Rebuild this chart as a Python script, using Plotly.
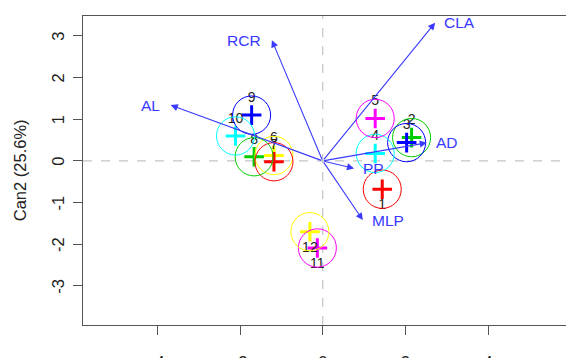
import plotly.graph_objects as go

# ---- data ----
groups = ["1", "2", "3", "4", "5", "6", "7", "8", "9", "10", "11", "12"]
can1 = [1.44, 2.15, 2.03, 1.27, 1.27, -1.18, -1.18, -1.66, -1.72, -2.11, -0.13, -0.31]
can2 = [-0.68, 0.56, 0.44, 0.18, 1.02, 0.13, -0.02, 0.10, 1.10, 0.60, -2.09, -1.70]
label_pos = ["bottom center", "top center", "top center", "top center", "top center",
             "top center", "top center", "top center", "top center", "top center",
             "bottom center", "bottom center"]
group_colors = ["#FF0000", "#00CD00", "#0000FF", "#00FFFF", "#FF00FF", "#FFFF00",
                "#FF0000", "#00CD00", "#0000FF", "#00FFFF", "#FF00FF", "#FFFF00"]
circle_radius = 0.46

variables = ["CLA", "RCR", "AL", "AD", "PP", "MLP"]
arrow_x = [2.72, -1.23, -3.68, 2.52, 0.76, 0.97]
arrow_y = [3.32, 2.90, 1.34, 0.435, -0.18, -1.42]
arrow_label_side = ["right", "left", "left", "right", "right", "right"]

x_ticks = [-4, -2, 0, 2, 4]
y_ticks = [-3, -2, -1, 0, 1, 2, 3]
y_title = "Can2 (25.6%)"

FONT = "Liberation Sans, Arial, sans-serif"
ARROW_COL = "#3a3aff"
LABEL_COL = "#3838ff"

fig = go.Figure()

shapes = []
# dashed reference lines
shapes.append(dict(type="line", xref="x", yref="paper", x0=0, x1=0, y0=0, y1=1,
                   line=dict(color="#c4c4c4", width=1.2, dash="dash"), layer="below"))
shapes.append(dict(type="line", xref="paper", yref="y", x0=0, x1=1, y0=0, y1=0,
                   line=dict(color="#c4c4c4", width=1.2, dash="dash"), layer="below"))
# group circles
for cx, cy, col in zip(can1, can2, group_colors):
    shapes.append(dict(type="circle", xref="x", yref="y",
                       x0=cx - circle_radius, x1=cx + circle_radius,
                       y0=cy - circle_radius, y1=cy + circle_radius,
                       line=dict(color=col, width=1), layer="above"))

# group means: crosses
fig.add_trace(go.Scatter(
    x=can1, y=can2, mode="markers+text", text=groups, textposition=label_pos,
    textfont=dict(family=FONT, size=14, color="#222"),
    marker=dict(symbol="cross-thin", size=14, line=dict(width=3, color=group_colors),
                color=group_colors),
    hoverinfo="skip", showlegend=False, cliponaxis=False))

annotations = []
for vx, vy, name, side in zip(arrow_x, arrow_y, variables, arrow_label_side):
    annotations.append(dict(x=vx, y=vy, ax=0, ay=0, xref="x", yref="y", axref="x", ayref="y",
                            showarrow=True, arrowhead=2, arrowsize=1.3, arrowwidth=1.1,
                            arrowcolor=ARROW_COL, text="", standoff=0))
    annotations.append(dict(x=vx, y=vy, xref="x", yref="y", text=name, showarrow=False,
                            xanchor="left" if side == "right" else "right",
                            xshift=7 if side == "right" else -9,
                            font=dict(family=FONT, size=15.5, color=LABEL_COL)))

# y tick labels (rotated, as in R), positioned by the y axis scale
for v in y_ticks:
    annotations.append(dict(x=-0.052, xref="paper", y=v, yref="y", text=str(v),
                            textangle=-90, showarrow=False, xanchor="center", yanchor="middle",
                            font=dict(family=FONT, size=16.5, color="#222")))

annotations.append(dict(x=-0.131, xref="paper", y=0.5, yref="paper", text=y_title,
                        textangle=-90, showarrow=False, xanchor="center", yanchor="middle",
                        font=dict(family=FONT, size=16.5, color="#222")))

fig.update_layout(
    width=566, height=358,
    margin=dict(l=83, r=0, t=16, b=33, autoexpand=False),
    paper_bgcolor="white", plot_bgcolor="white",
    shapes=shapes, annotations=annotations,
    font=dict(family=FONT, color="#222"),
    xaxis=dict(range=[-5.80, 5.886], tickvals=x_ticks, ticktext=[str(v) for v in x_ticks],
               showgrid=False, zeroline=False, showline=True, mirror=True, automargin=False,
               linecolor="#555", linewidth=1.2, ticks="outside", ticklen=9, tickcolor="#555",
               tickfont=dict(family=FONT, size=16.5, color="#222"), ticklabelstandoff=13),
    yaxis=dict(range=[-3.94, 3.48], tickvals=y_ticks, showticklabels=False,
               showgrid=False, zeroline=False, showline=True, mirror=False, automargin=False,
               linecolor="#555", linewidth=1.2, ticks="outside", ticklen=9, tickcolor="#555"),
)

fig.write_html("out.html", config={"displayModeBar": False},
               post_script="document.body.style.margin='0px';document.body.style.overflow='hidden';")
